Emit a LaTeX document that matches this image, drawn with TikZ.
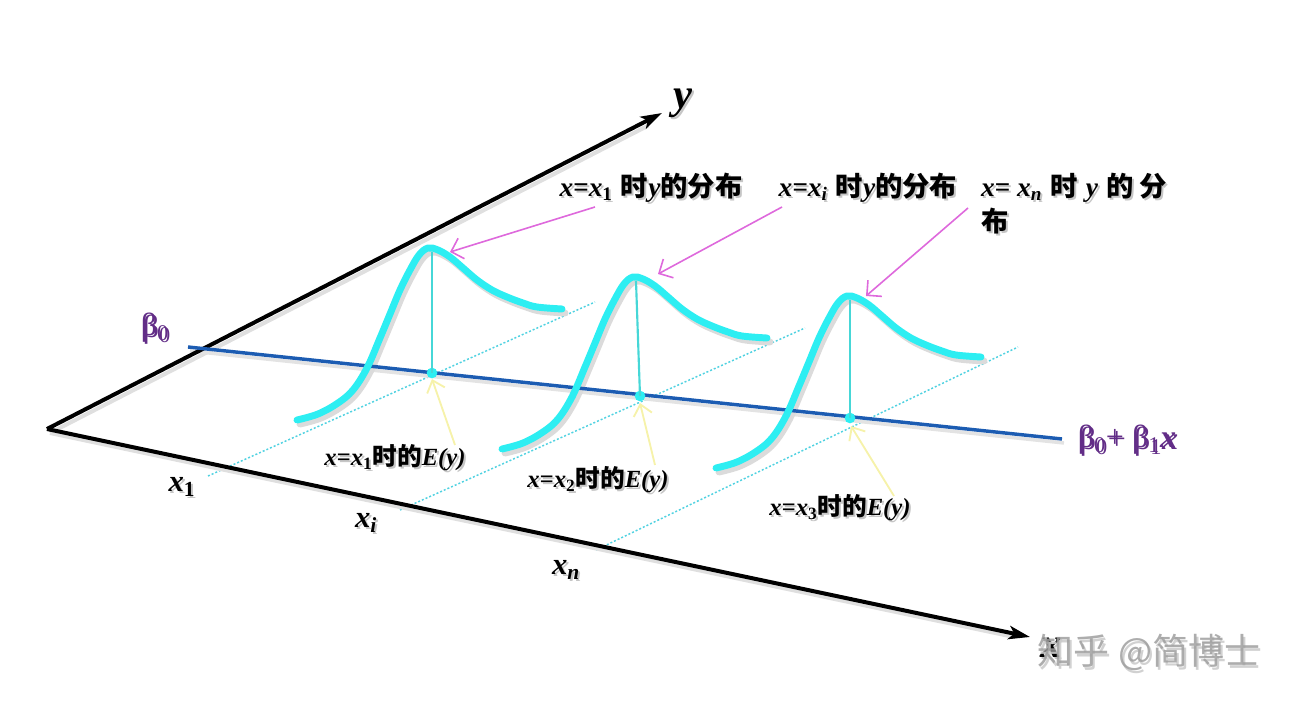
\documentclass[tikz,border=0pt]{standalone}
\usepackage{fontspec}
\newfontfamily\tms{Liberation Serif}
\newfontfamily\cjk{Noto Sans CJK SC}
\usetikzlibrary{arrows.meta,calc}
\definecolor{cyanc}{RGB}{45,238,242}
\definecolor{vline}{RGB}{70,215,215}
\definecolor{dotc}{RGB}{80,210,225}
\definecolor{bluec}{RGB}{28,92,178}
\definecolor{pinkc}{RGB}{222,105,220}
\definecolor{yelc}{RGB}{246,242,170}
\definecolor{purc}{RGB}{98,45,135}
\newcommand\vx[1]{{\tms\bfseries\itshape #1}}
\newcommand\hz[1]{{\cjk\bfseries #1}}
\newcommand\stxt[4][]{%
  \node[txt,text=gray!45,#1] (#2s) at ($(#3)+(2,2)$) {#4};
  \node[txt,#1] (#2) at (#3) {#4};}
\tikzset{
  txt/.style={inner sep=0pt,outer sep=0pt},
  axisline/.style={line width=3pt,black,-{Stealth[length=16pt,width=10pt,inset=4pt]}},
  axshadow/.style={line width=3pt,gray!25},
  curve/.style={line width=5.2pt,cyanc,line cap=round},
  cshadow/.style={line width=5.2pt,gray!28,line cap=round},
  regline/.style={line width=2.6pt,bluec},
  rshadow/.style={line width=2.6pt,gray!22},
  dotline/.style={line width=1.1pt,dotc,dash pattern=on 1.5pt off 1.5pt},
  vert/.style={line width=1.6pt,vline},
  meandot/.style={circle,fill=cyanc,inner sep=0pt,minimum size=8pt},
  pinkarrow/.style={line width=1.2pt,pinkc,-{Straight Barb[length=8pt,width=16pt,line width=1.2pt]}},
  yelarrow/.style={line width=1.4pt,yelc,-{Straight Barb[length=8pt,width=14pt,line width=1.4pt]}},
  top/.style={font=\fontsize{20.5}{26}\selectfont},
  small/.style={font=\fontsize{18.5}{22}\selectfont},
  tick/.style={font=\fontsize{23}{26}\selectfont},
  big/.style={font=\fontsize{32}{36}\selectfont},
  beta/.style={font=\fontsize{24}{28}\selectfont,text=purc},
}
\newcommand\bellpts{(-131,172) (-110,166) (-90,155) (-75,142) (-61,120) (-48,90) (-38,66) (-28,42) (-18,22) (-9,7) (0,0) (10,2) (22,9) (35,20) (49,32) (64,42) (79,49) (95,55) (109,59) (134,61)}
\begin{document}
\begin{tikzpicture}[x=0.75pt,y=-0.75pt]
\useasboundingbox (0,0) rectangle (1304,706);
% coordinates
\coordinate (O) at (47,429);
\coordinate (Ytip) at (662,113);
\coordinate (Xtip) at (1030,637);
\coordinate (B0) at (188,347);
\coordinate (B1) at (1062,439);
\coordinate (P1) at (428,248);
\coordinate (P2) at (633,277);
\coordinate (P3) at (847,296);
\coordinate (T1) at (432,252);
\coordinate (T2) at (636,281);
\coordinate (T3) at (850,300);
% dotted lines
\coordinate (Da1) at (208,476); \coordinate (Db1) at (595,302);
\coordinate (Da2) at (400,510); \coordinate (Db2) at (805,328);
\coordinate (Da3) at (596,550); \coordinate (Db3) at (1018,347);
\draw[dotline] (Da1) -- (Db1);
\draw[dotline] (Da2) -- (Db2);
\draw[dotline] (Da3) -- (Db3);
% shadows
\draw[axshadow] ($(O)+(3,4)$) -- ($(Ytip)!14pt!(O)+(3,4)$);
\draw[axshadow] ($(O)+(3,4)$) -- ($(Xtip)!14pt!(O)+(3,4)$);
\draw[rshadow] ($(B0)+(2,4)$) -- ($(B1)+(2,4)$);
\foreach \p in {P1,P2,P3}{
  \draw[cshadow] plot[smooth,tension=0.6,shift={($(\p)+(3,4)$)}] coordinates {\bellpts};
}
% axes
\draw[axisline] (O) -- (Ytip);
\draw[axisline] (O) -- (Xtip);
% regression line
\draw[regline] (B0) -- (B1);
% curves
\foreach \p in {P1,P2,P3}{
  \draw[curve] plot[smooth,tension=0.6,shift={(\p)}] coordinates {\bellpts};
}
% mean dots and verticals
\node[meandot] (D1) at (432,373) {};
\node[meandot] (D2) at (640,396) {};
\node[meandot] (D3) at (850,418) {};
\draw[vert] (T1) -- (D1.center);
\draw[vert] (T2) -- (D2.center);
\draw[vert] (T3) -- (D3.center);
% labels top
\stxt[top]{L1}{651,188}{\vx{x=x\textsubscript{\upshape 1}} \hz{时}\vx{y}\hz{的分布}}
\stxt[top]{L2}{868,188}{\vx{x=x\textsubscript{i}} \hz{时}\vx{y}\hz{的分布}}
\stxt[top,anchor=north west,align=left,font=\fontsize{20.5}{26}\selectfont]{L3}{981,173}{\vx{x= x\textsubscript{n}} \hz{时} \vx{y} \hz{的 分}\\\hz{布}}
% pink arrows
\coordinate (Pa1) at (595,207); \coordinate (Pe1) at (450,252);
\coordinate (Pa2) at (782,207); \coordinate (Pe2) at (658,274);
\coordinate (Pa3) at (968,208); \coordinate (Pe3) at (866,296);
\draw[pinkarrow] (Pa1) -- (Pe1);
\draw[pinkarrow] (Pa2) -- (Pe2);
\draw[pinkarrow] (Pa3) -- (Pe3);
% E(y) labels
\stxt[small]{E1}{395,458}{\vx{x=x\textsubscript{\upshape 1}}\hz{时的}\vx{E(y)}}
\stxt[small]{E2}{598,480}{\vx{x=x\textsubscript{\upshape 2}}\hz{时的}\vx{E(y)}}
\stxt[small]{E3}{840,508}{\vx{x=x\textsubscript{\upshape 3}}\hz{时的}\vx{E(y)}}
% yellow arrows
\coordinate (Ya1) at (455,445); \coordinate (Ya2) at (655,465); \coordinate (Ya3) at (894,496);
\draw[yelarrow] (Ya1) -- ($(D1.center)+(0,6)$);
\draw[yelarrow] (Ya2) -- ($(D2.center)+(0,7)$);
\draw[yelarrow] (Ya3) -- ($(D3.center)+(1,8)$);
% tick labels
\stxt[tick]{X1}{182,487}{\vx{x\textsubscript{\upshape 1}}}
\stxt[tick]{Xi}{366,523}{\vx{x\textsubscript{i}}}
\stxt[tick]{Xn}{566,570}{\vx{x\textsubscript{n}}}
% axis labels
\stxt[big]{Ylab}{683,103}{\vx{y}}
\stxt[big]{Xlab}{1051,648}{\vx{x}}
% beta labels
\stxt[beta,text=purc]{Bz}{155,328}{{\tms β\textsubscript{0}}}
\stxt[beta,text=purc]{Bl}{1127,440}{{\tms β\textsubscript{0}+ β\textsubscript{1}}\vx{x}}
% watermark
\node[txt,font=\fontsize{27}{30}\selectfont\cjk,text=gray!40,opacity=0.9] (WMs) at (1151,655) {知乎 @简博士};
\node[txt,font=\fontsize{27}{30}\selectfont\cjk,text=gray!75,opacity=0.85] (WM) at (1149,652) {知乎 @简博士};
\end{tikzpicture}
\end{document}
